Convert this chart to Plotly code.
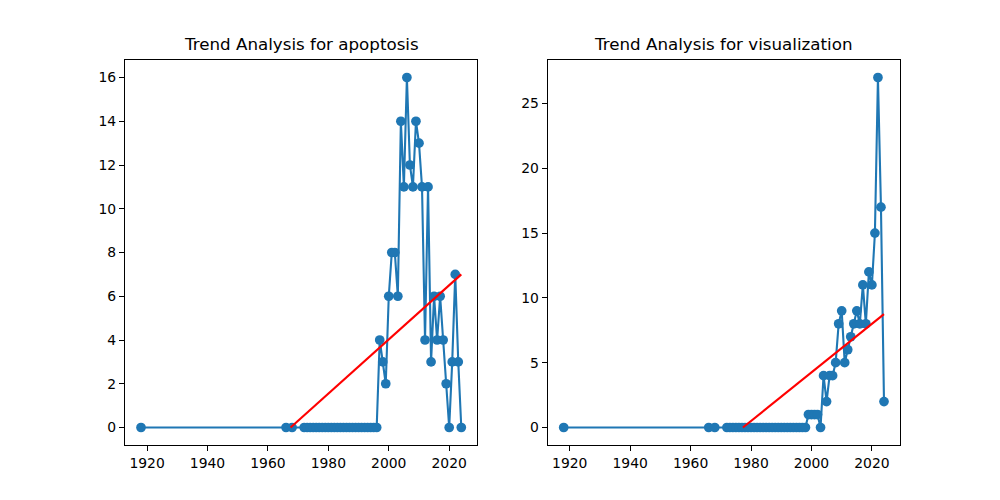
import plotly.graph_objects as go

# ---- data ----
apoptosis_years = [1918, 1966, 1968] + list(range(1972, 2025))
apoptosis_counts = [0, 0, 0] + [0] * 25 + [
    4, 3, 2, 6, 8, 8, 6, 14, 11, 16, 12, 11, 14, 13, 11, 4, 11, 3, 6, 4, 6, 4, 2, 0, 3, 7, 3, 0]
# 1972..1996 zeros (25), then 1997..2024 (28)

visualization_years = [1918, 1966, 1968] + list(range(1972, 2025))
visualization_counts = [0, 0, 0] + [0] * 27 + [
    1, 1, 1, 1, 0, 4, 2, 4, 4, 5, 8, 9, 5, 6, 7, 8, 9, 8, 11, 8, 12, 11, 15, 27, 17, 2]
# 1972..1998 zeros (27), then 1999..2024 (26)

apoptosis_trend_years = [1967.5, 2024]
apoptosis_trend_values = [0.0, 7.0]
visualization_trend_years = [1977.3, 2024]
visualization_trend_values = [0.0, 8.75]

titles = ["Trend Analysis for apoptosis", "Trend Analysis for visualization"]
x_ticks = [1920, 1940, 1960, 1980, 2000, 2020]
apoptosis_y_ticks = [0, 2, 4, 6, 8, 10, 12, 14, 16]
visualization_y_ticks = [0, 5, 10, 15, 20, 25]

BLUE = "#1f77b4"
FONT = "DejaVu Sans"

fig = go.Figure()

def add_panel(years, counts, ty, tv, xa, ya):
    fig.add_trace(go.Scatter(
        x=years, y=counts, mode="lines+markers", xaxis=xa, yaxis=ya,
        line=dict(color=BLUE, width=2.1),
        marker=dict(color=BLUE, size=9.7, line=dict(width=0)),
        showlegend=False, hoverinfo="x+y"))
    fig.add_trace(go.Scatter(
        x=ty, y=tv, mode="lines", xaxis=xa, yaxis=ya,
        line=dict(color="red", width=2.1), showlegend=False))

add_panel(apoptosis_years, apoptosis_counts, apoptosis_trend_years, apoptosis_trend_values, "x", "y")
add_panel(visualization_years, visualization_counts, visualization_trend_years, visualization_trend_values, "x2", "y2")

def pad_range(vals):
    lo, hi = min(vals), max(vals)
    m = (hi - lo) * 0.05
    return [lo - m, hi + m]

axis_common = dict(
    showgrid=False, zeroline=False, showline=True, mirror=True,
    linecolor="black", linewidth=1.1, ticks="outside", ticklen=5,
    tickwidth=1.1, tickcolor="black",
    tickfont=dict(family=FONT, size=13.9, color="black"))

W_AREA = 775.0
left_dom = [0.0, 352.3 / W_AREA]
right_dom = [(547.7 - 125) / W_AREA, 1.0]

fig.update_layout(
    width=1000, height=500,
    margin=dict(l=117, r=108, t=52, b=63),
    paper_bgcolor="white", plot_bgcolor="white",
    font=dict(family=FONT, color="black"),
    xaxis=dict(domain=left_dom, range=pad_range(apoptosis_years), tickvals=x_ticks, **axis_common),
    yaxis=dict(domain=[0, 1], range=pad_range(apoptosis_counts), tickvals=apoptosis_y_ticks, **axis_common),
    xaxis2=dict(domain=right_dom, range=pad_range(visualization_years), tickvals=x_ticks, anchor="y2", **axis_common),
    yaxis2=dict(domain=[0, 1], range=pad_range(visualization_counts), tickvals=visualization_y_ticks, anchor="x2", **axis_common),
)

for dom, t in zip([left_dom, right_dom], titles):
    fig.add_annotation(
        text=t, xref="paper", yref="paper",
        x=(dom[0] + dom[1]) / 2, y=1.0, xanchor="center", yanchor="bottom",
        yshift=4, showarrow=False,
        font=dict(family=FONT, size=16.7, color="black"))

fig.write_html("out.html")
